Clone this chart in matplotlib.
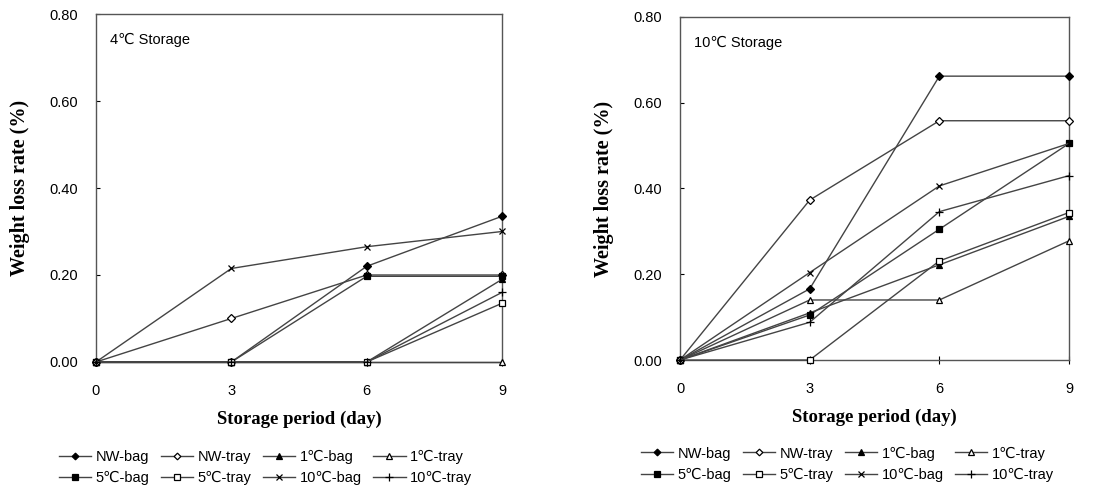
import numpy as np
import matplotlib.pyplot as plt

days = [0, 3, 6, 9]
labels = ['NW-bag', 'NW-tray', '1℃-bag', '1℃-tray',
          '5℃-bag', '5℃-tray', '10℃-bag', '10℃-tray']

# 4℃ storage
s4_nw_bag = [0, 0, 0.22, 0.335]
s4_nw_tray = [0, 0.10, 0.20, 0.20]
s4_1c_bag = [0, 0, 0, 0.19]
s4_1c_tray = [0, 0, 0, 0]
s4_5c_bag = [0, 0, 0.197, 0.197]
s4_5c_tray = [0, 0, 0, 0.135]
s4_10c_bag = [0, 0.215, 0.265, 0.30]
s4_10c_tray = [0, 0, 0, 0.16]

# 10℃ storage
s10_nw_bag = [0, 0.166, 0.662, 0.662]
s10_nw_tray = [0, 0.373, 0.558, 0.558]
s10_1c_bag = [0, 0.11, 0.222, 0.335]
s10_1c_tray = [0, 0.14, 0.14, 0.278]
s10_5c_bag = [0, 0.105, 0.305, 0.505]
s10_5c_tray = [0, 0, 0.231, 0.344]
s10_10c_bag = [0, 0.204, 0.406, 0.505]
s10_10c_tray = [0, 0.088, 0.346, 0.43]

markers = ['D', 'D', '^', '^', 's', 's', 'x', '+']
filled = [True, False, True, False, True, False, True, True]
msizes = [4, 4, 5, 5, 5, 5, 5, 6]

sans = ['Liberation Sans', 'DejaVu Sans']
serif = ['Liberation Serif', 'DejaVu Serif']

fig = plt.figure(figsize=(11.07, 4.95), dpi=100)
ax1 = fig.add_axes([0.0867, 0.2687, 0.3668, 0.703])
ax2 = fig.add_axes([0.6143, 0.2727, 0.3514, 0.693])

data4 = [s4_nw_bag, s4_nw_tray, s4_1c_bag, s4_1c_tray,
         s4_5c_bag, s4_5c_tray, s4_10c_bag, s4_10c_tray]
data10 = [s10_nw_bag, s10_nw_tray, s10_1c_bag, s10_1c_tray,
          s10_5c_bag, s10_5c_tray, s10_10c_bag, s10_10c_tray]

# legend is filled column by column, so reorder to read row by row
order = [0, 4, 1, 5, 2, 6, 3, 7]

for ax, data, title, leg_x in [(ax1, data4, '4℃ Storage', -0.105),
                                (ax2, data10, '10℃ Storage', -0.115)]:
    lines = []
    for vals, lab, m, f, ms in zip(data, labels, markers, filled, msizes):
        ln, = ax.plot(days, vals, color='#444444', lw=1.0, marker=m, ms=ms,
                      mfc='black' if f else 'white', mec='black', mew=0.9,
                      label=lab, clip_on=False, zorder=3)
        lines.append(ln)
    ax.set_xlim(0, 9)
    ax.set_ylim(0, 0.8)
    ax.set_xticks(days)
    ax.set_yticks(np.arange(0, 0.81, 0.2))
    ax.set_yticklabels(['%.2f' % v for v in np.arange(0, 0.81, 0.2)],
                       family=sans, fontsize=10.5)
    ax.set_xticklabels([str(d) for d in days], family=sans, fontsize=10.5)
    ax.tick_params(axis='y', direction='in', length=3, pad=13)
    ax.tick_params(axis='x', direction='inout', length=6, pad=13)
    for sp in ax.spines.values():
        sp.set_color('#555555')
        sp.set_linewidth(1.0)
    ax.text(0.035, 0.925, title, transform=ax.transAxes, family=sans,
            fontsize=10.5, va='center')
    ax.set_xlabel('Storage period (day)', family=serif, fontweight='bold',
                  fontsize=13.5, labelpad=9)
    ax.set_ylabel('Weight loss rate (%)', family=serif, fontweight='bold',
                  fontsize=14.5, labelpad=14)
    ax.legend([lines[i] for i in order], [labels[i] for i in order],
              loc='upper left', bbox_to_anchor=(leg_x, -0.235), ncol=4,
              frameon=False, prop={'family': sans, 'size': 10.5},
              handlelength=2.2, columnspacing=0.8, labelspacing=0.5,
              handletextpad=0.3, borderaxespad=0, markerscale=0.85)

fig.savefig('out.png', dpi=100)
